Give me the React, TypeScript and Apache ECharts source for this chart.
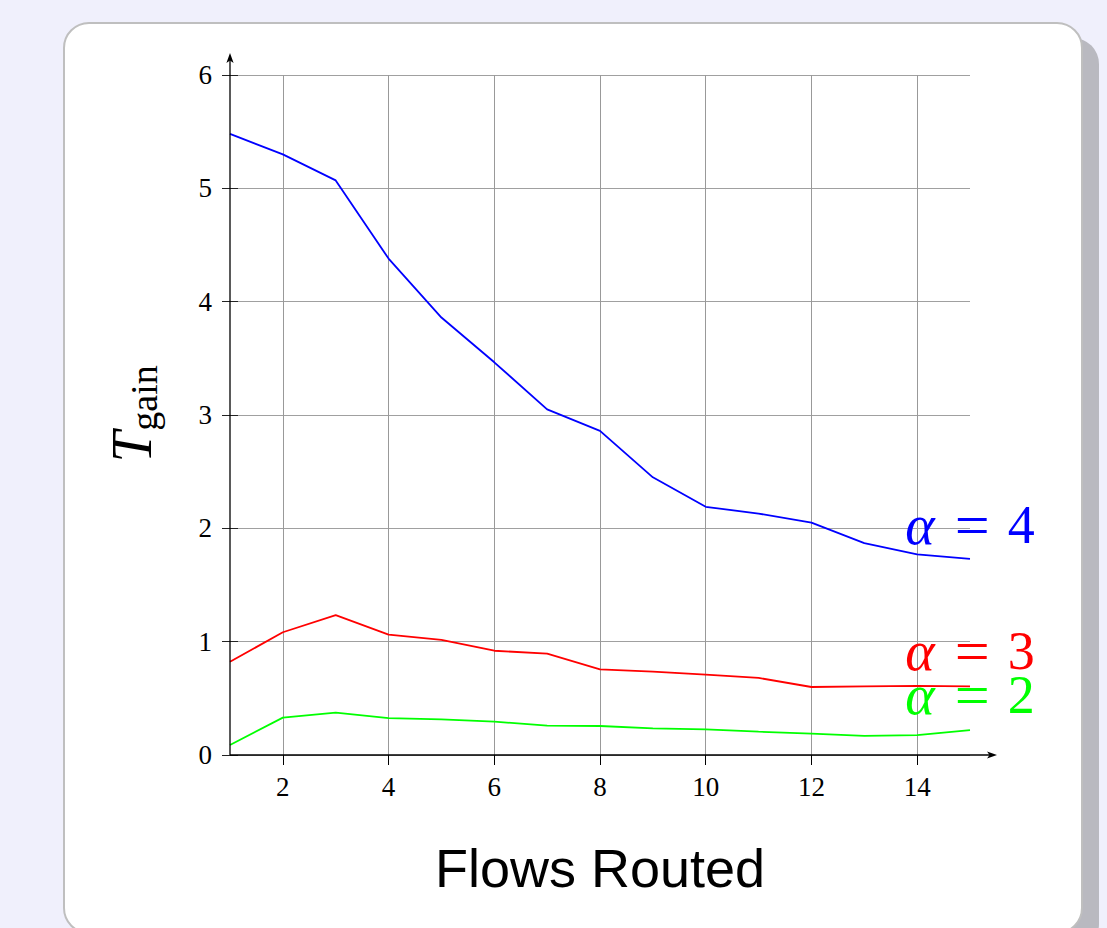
import React, { useEffect, useRef } from "react";
import * as echarts from "echarts";

const flows = [1, 2, 3, 4, 5, 6, 7, 8, 9, 10, 11, 12, 13, 14, 15];
const alpha4 = [5.48, 5.3, 5.07, 4.38, 3.86, 3.465, 3.05, 2.86, 2.45, 2.19, 2.13, 2.05, 1.87, 1.77, 1.73];
const alpha3 = [0.823, 1.083, 1.235, 1.062, 1.015, 0.92, 0.894, 0.756, 0.735, 0.71, 0.68, 0.6, 0.606, 0.61, 0.606];
const alpha2 = [0.088, 0.33, 0.373, 0.326, 0.315, 0.294, 0.259, 0.256, 0.235, 0.226, 0.206, 0.188, 0.168, 0.176, 0.22];
const xTicks = [2, 4, 6, 8, 10, 12, 14];
const alphaValues = ["4", "3", "2"];
const labelAnchors = [
  [15, 2.03],
  [15, 0.92],
  [15, 0.53],
];
const colors = ["#0000ff", "#ff0000", "#00ff00"];
const xTitle = "Flows Routed";

const serif = "'Liberation Serif', 'DejaVu Serif', serif";
const sans = "'Liberation Sans', Arial, sans-serif";

export default function App() {
  const ref = useRef<HTMLDivElement>(null);
  useEffect(() => {
    const el = ref.current!;
    const chart = echarts.init(el, null, { renderer: "svg" });
    const dataSets = [alpha4, alpha3, alpha2];
    const lineSeries = dataSets.map((d, i) => ({
      type: "line",
      name: "alpha" + alphaValues[i],
      data: flows.map((x, k) => [x, d[k]]),
      symbol: "none",
      showSymbol: false,
      silent: true,
      z: 5,
      lineStyle: { color: colors[i], width: 1.8 },
      itemStyle: { color: colors[i] },
    }));
    const labelSeries = labelAnchors.map((p, i) => {
      const base = { fontFamily: serif, color: colors[i], lineHeight: 40, textBorderWidth: 0, textBorderColor: "transparent" };
      return {
        type: "scatter",
        data: [p],
        symbolSize: 0,
        silent: true,
        z: 6,
        itemStyle: { color: colors[i], opacity: 1 },
        label: {
          show: true,
          position: "inside",
          color: colors[i],
          opacity: 1,
          textBorderWidth: 0,
          textBorderColor: "transparent",
          formatter: `{a|α}{e|=}{n|${alphaValues[i]}}`,
          rich: {
            a: { ...base, fontStyle: "italic", fontSize: 56 },
            e: { ...base, fontSize: 62, padding: [0, 18, 0, 20] },
            n: { ...base, fontSize: 54 },
          },
        },
      };
    });
    const gridSeries = {
      type: "line",
      data: [
        [1, 0],
        [15, 0],
      ],
      symbol: "none",
      silent: true,
      z: 1,
      lineStyle: { opacity: 0 },
      markLine: {
        silent: true,
        symbol: ["none", "none"],
        label: { show: false },
        lineStyle: { color: "#999999", type: "solid", width: 1 },
        data: xTicks.map((v) => ({ xAxis: v })),
      },
    };
    chart.setOption({
      animation: false,
      backgroundColor: "transparent",
      grid: { left: 230, right: 137, top: 75, bottom: 173 },
      xAxis: [
        {
          type: "value",
          min: 1,
          max: 15,
          position: "bottom",
          axisLine: { show: false },
          axisTick: { show: true, customValues: xTicks, length: 10, lineStyle: { color: "#000", width: 1 } },
          axisLabel: { customValues: xTicks, margin: 18, fontFamily: serif, fontSize: 27, color: "#000" },
          splitLine: { show: false },
          name: xTitle,
          nameLocation: "middle",
          nameGap: 86,
          nameTextStyle: { fontFamily: sans, fontSize: 54, color: "#000" },
        },
        {
          type: "value",
          min: 1,
          max: 15,
          position: "bottom",
          offset: 0,
          axisLine: { show: false },
          axisTick: { show: true, inside: true, customValues: xTicks, length: 10, lineStyle: { color: "#000", width: 1 } },
          axisLabel: { show: false },
          splitLine: { show: false },
        },
      ],
      yAxis: [
        {
          type: "value",
          min: 0,
          max: 6,
          interval: 1,
          position: "left",
          axisLine: { show: false },
          axisTick: { show: true, length: 8, lineStyle: { color: "#222", width: 1 } },
          axisLabel: { margin: 18, fontFamily: serif, fontSize: 27, color: "#000" },
          splitLine: { show: true, lineStyle: { color: "#a0a0a0", width: 1 } },
        },
        {
          type: "value",
          min: 0,
          max: 6,
          interval: 1,
          position: "left",
          offset: 0,
          axisLine: { show: false },
          axisTick: { show: true, inside: true, length: 8, lineStyle: { color: "#222", width: 1 } },
          axisLabel: { show: false },
          splitLine: { show: false },
        },
      ],
      series: [gridSeries, ...lineSeries, ...labelSeries],
    });

    const [x0, y0] = chart.convertToPixel({ xAxisIndex: 0, yAxisIndex: 0 }, [1, 0]) as number[];
    const [x1, y1] = chart.convertToPixel({ xAxisIndex: 0, yAxisIndex: 0 }, [15, 6]) as number[];
    const xEnd = x1 + 27;
    const yEnd = y1 - 22;
    const midY = (y0 + y1) / 2;
    chart.setOption({
      graphic: [
        { type: "line", z: 10, shape: { x1: x0, y1: y0, x2: xEnd - 6, y2: y0 }, style: { stroke: "#000", lineWidth: 1.3 } },
        {
          type: "polygon",
          z: 10,
          shape: { points: [[xEnd, y0], [xEnd - 10, y0 - 3.6], [xEnd - 7.5, y0], [xEnd - 10, y0 + 3.6]] },
          style: { fill: "#000" },
        },
        { type: "line", z: 10, shape: { x1: x0, y1: y0, x2: x0, y2: yEnd + 6 }, style: { stroke: "#000", lineWidth: 1.3 } },
        {
          type: "polygon",
          z: 10,
          shape: { points: [[x0, yEnd], [x0 - 3.6, yEnd + 10], [x0, yEnd + 7.5], [x0 + 3.6, yEnd + 10]] },
          style: { fill: "#000" },
        },
        {
          type: "text",
          z: 10,
          x: 132,
          y: midY + 32,
          rotation: Math.PI / 2,
          style: { text: "T", fontFamily: serif, fontStyle: "italic", fontSize: 56, fill: "#000", align: "center", verticalAlign: "middle" },
        },
        {
          type: "text",
          z: 10,
          x: 144,
          y: midY - 17,
          rotation: Math.PI / 2,
          style: { text: "gain", fontFamily: serif, fontSize: 38, fill: "#000", align: "center", verticalAlign: "middle" },
        },
      ],
    });
    return () => chart.dispose();
  }, []);

  return (
    <div style={{ position: "absolute", left: 0, top: 0, width: 1107, height: 928, overflow: "hidden", background: "#f0f0fc" }}>
      <div style={{ position: "absolute", left: 79, top: 38, width: 1020, height: 912, borderRadius: 26, background: "#b9b9c0" }} />
      <div
        style={{
          position: "absolute",
          left: 63,
          top: 22,
          width: 1020,
          height: 912,
          boxSizing: "border-box",
          borderRadius: 26,
          background: "#ffffff",
          border: "2px solid #bfbfbf",
        }}
      />
      <div ref={ref} style={{ position: "absolute", left: 0, top: 0, width: 1107, height: 928 }} />
    </div>
  );
}
